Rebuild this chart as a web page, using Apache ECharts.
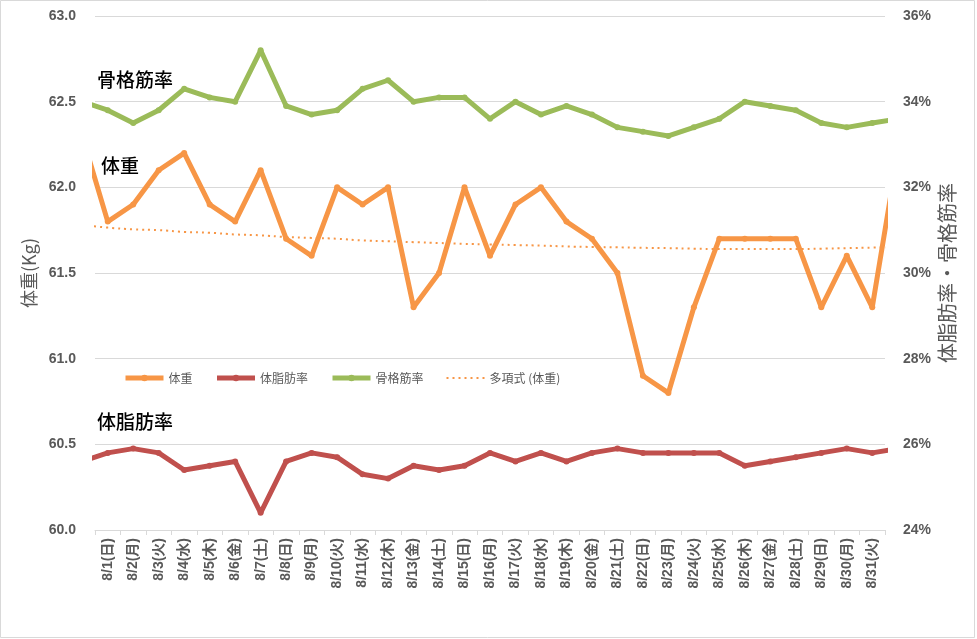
<!DOCTYPE html>
<html><head><meta charset="utf-8">
<script src="https://cdn.jsdelivr.net/npm/echarts@6/dist/echarts.min.js"></script>
<style>html,body{margin:0;padding:0;background:#fff}#c{width:977px;height:639px}</style>
</head><body><div id="c"></div>
<script>
// categories shown on the axis (August)
const categories = ['8/1(日)','8/2(月)','8/3(火)','8/4(水)','8/5(木)','8/6(金)','8/7(土)','8/8(日)','8/9(月)','8/10(火)','8/11(水)','8/12(木)','8/13(金)','8/14(土)','8/15(日)','8/16(月)','8/17(火)','8/18(水)','8/19(木)','8/20(金)','8/21(土)','8/22(日)','8/23(月)','8/24(火)','8/25(水)','8/26(木)','8/27(金)','8/28(土)','8/29(日)','8/30(月)','8/31(火)'];
// values including the neighbouring days (7/31 and 9/1) that are clipped at the plot edges
const weight = [62.3, 61.8,61.9,62.1,62.2,61.9,61.8,62.1,61.7,61.6,62.0,61.9,62.0,61.3,61.5,62.0,61.6,61.9,62.0,61.8,61.7,61.5,60.9,60.8,61.3,61.7,61.7,61.7,61.7,61.3,61.6,61.3, 62.2];
const fatRate = [25.6, 25.8,25.9,25.8,25.4,25.5,25.6,24.4,25.6,25.8,25.7,25.3,25.2,25.5,25.4,25.5,25.8,25.6,25.8,25.6,25.8,25.9,25.8,25.8,25.8,25.8,25.5,25.6,25.7,25.8,25.9,25.8, 25.9];
const muscleRate = [34.0, 33.8,33.5,33.8,34.3,34.1,34.0,35.2,33.9,33.7,33.8,34.3,34.5,34.0,34.1,34.1,33.6,34.0,33.7,33.9,33.7,33.4,33.3,33.2,33.4,33.6,34.0,33.9,33.8,33.5,33.4,33.5, 33.6];
const weightTrend = [61.78, 61.765,61.755,61.75,61.74,61.735,61.725,61.72,61.71,61.705,61.70,61.69,61.685,61.68,61.675,61.67,61.667,61.663,61.66,61.655,61.652,61.65,61.647,61.645,61.642,61.64,61.64,61.64,61.64,61.642,61.645,61.648, 61.65];
const weightTicks = [60.0, 60.5, 61.0, 61.5, 62.0, 62.5, 63.0];
const rateTicks = [24, 26, 28, 30, 32, 34, 36];

const pts = arr => arr.map((v, i) => [i, v]);
const jp = '"Noto Sans CJK JP", sans-serif';
const lbl = '"Liberation Sans", "Noto Sans CJK JP", sans-serif';

const chart = echarts.init(document.getElementById('c'), null, {renderer: 'canvas'});
chart.setOption({
  animation: false,
  backgroundColor: '#fff',
  grid: {left: 95, right: 92, top: 16, bottom: 109, containLabel: false},
  legend: {
    left: 118, top: 367, itemWidth: 38, itemHeight: 8, itemGap: 22,
    lineStyle: {width: 'inherit'},
    textStyle: {color: '#595959', fontSize: 12, fontFamily: jp},
    data: ['体重', '体脂肪率', '骨格筋率', {name: '多項式 (体重)', itemStyle: {color: 'rgba(0,0,0,0)', borderWidth: 0}}]
  },
  xAxis: [{
    type: 'category', data: categories, boundaryGap: true,
    axisLine: {lineStyle: {color: '#d9d9d9', width: 1}},
    axisTick: {show: true, length: 5, lineStyle: {color: '#d9d9d9'}},
    axisLabel: {rotate: 90, interval: 0, color: '#595959', fontSize: 14, fontWeight: 'bold', fontFamily: lbl, margin: 8},
    splitLine: {show: false}
  }, {
    type: 'value', min: 0.5, max: 31.5, show: false
  }],
  yAxis: [{
    type: 'value', min: weightTicks[0], max: weightTicks[weightTicks.length - 1], interval: 0.5,
    name: '体重(Kg)', nameLocation: 'middle', nameRotate: 90, nameGap: 55,
    nameTextStyle: {color: '#595959', fontSize: 18, fontFamily: jp},
    axisLine: {show: false}, axisTick: {show: false},
    axisLabel: {color: '#595959', fontSize: 14, fontWeight: 'bold', fontFamily: lbl, margin: 19, formatter: v => v.toFixed(1)},
    splitLine: {lineStyle: {color: '#d9d9d9', width: 1}}
  }, {
    type: 'value', min: rateTicks[0], max: rateTicks[rateTicks.length - 1], interval: 2, position: 'right',
    name: '体脂肪率・骨格筋率', nameLocation: 'middle', nameRotate: 90, nameGap: 52, nameMoveOverlap: false,
    nameTextStyle: {color: '#595959', fontSize: 20, fontFamily: jp},
    axisLine: {show: false}, axisTick: {show: false},
    axisLabel: {color: '#595959', fontSize: 14, fontWeight: 'bold', fontFamily: lbl, margin: 18, formatter: '{value}%'},
    splitLine: {show: false}
  }],
  series: [{
    name: '体重', type: 'line', xAxisIndex: 1, yAxisIndex: 0, data: pts(weight),
    symbol: 'circle', symbolSize: 6, clip: true,
    lineStyle: {color: '#F79646', width: 5}, itemStyle: {color: '#F79646'}
  }, {
    name: '体脂肪率', type: 'line', xAxisIndex: 1, yAxisIndex: 1, data: pts(fatRate),
    symbol: 'circle', symbolSize: 6, clip: true,
    lineStyle: {color: '#C0504D', width: 5}, itemStyle: {color: '#C0504D'}
  }, {
    name: '骨格筋率', type: 'line', xAxisIndex: 1, yAxisIndex: 1, data: pts(muscleRate),
    symbol: 'circle', symbolSize: 6, clip: true,
    lineStyle: {color: '#9BBB59', width: 5}, itemStyle: {color: '#9BBB59'}
  }, {
    name: '多項式 (体重)', type: 'line', xAxisIndex: 1, yAxisIndex: 0, data: pts(weightTrend),
    symbol: 'none', smooth: true, clip: true,
    lineStyle: {color: '#F79646', width: 2, type: [2, 4]}, itemStyle: {color: '#F79646'}
  }],
  graphic: [
    {type: 'rect', shape: {x: 0.5, y: 0.5, width: 974, height: 637}, style: {fill: 'none', stroke: '#d9d9d9', lineWidth: 1}, z: -1},
    {type: 'text', left: 97, top: 70, style: {text: '骨格筋率', fill: '#000', font: '500 19px "Noto Sans CJK JP"'}},
    {type: 'text', left: 101, top: 156, style: {text: '体重', fill: '#000', font: '500 19px "Noto Sans CJK JP"'}},
    {type: 'text', left: 97, top: 412, style: {text: '体脂肪率', fill: '#000', font: '500 19px "Noto Sans CJK JP"'}}
  ]
});
</script></body></html>
